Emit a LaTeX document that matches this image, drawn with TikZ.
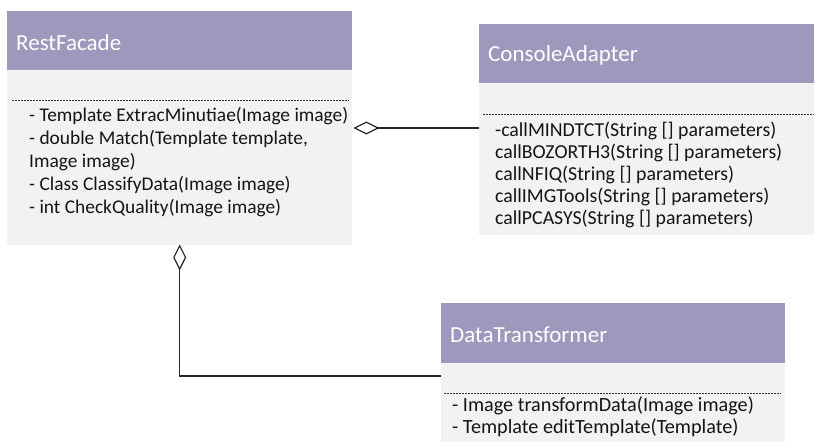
\documentclass[tikz,border=0pt]{standalone}
\usepackage{fontspec}
\setmainfont{Carlito}
\usetikzlibrary{arrows.meta}
\definecolor{hdrcol}{RGB}{159,151,188}
\definecolor{bodycol}{RGB}{242,242,242}
\definecolor{txtcol}{RGB}{20,20,20}
\tikzset{
  hdr/.style={draw=none, fill=hdrcol, anchor=north west, inner sep=0pt},
  bodybox/.style={draw=none, fill=bodycol, anchor=north west, inner sep=0pt},
  hdrtext/.style={text=white, anchor=west, inner sep=0pt, font=\fontsize{23}{27}\selectfont},
  btext/.style={text=txtcol, anchor=base west, inner sep=0pt, font=\fontsize{19.4}{23}\selectfont},
  ctext/.style={btext, font=\fontsize{19.8}{23}\selectfont},
  dtext/.style={btext, font=\fontsize{20.2}{23}\selectfont},
  dashline/.style={draw=black!80, line width=0.8pt, dash pattern=on 2pt off 1pt},
  agg/.style={draw=black!85, line width=1.4pt, -{Diamond[open, fill=white, length=26pt, width=13pt, line width=1.2pt]}}
}
\begin{document}
\begin{tikzpicture}[x=1pt,y=-1pt]
\useasboundingbox (0,0) rectangle (815,442);
% RestFacade
\node[hdr, minimum width=345pt, minimum height=59pt] (rfh) at (7,11) {};
\node[bodybox, minimum width=345pt, minimum height=175pt] (rfb) at (7,70) {};
\node[hdrtext] (rft) at ([xshift=9pt,yshift=-1.5pt]rfh.west) {RestFacade};
\draw[dashline] ([xshift=5pt]rfb.north west |- 0,100) -- ([xshift=-4pt]rfb.north east |- 0,100);
\node[btext] (rf1) at (29,121) {- Template ExtracMinutiae(Image image)};
\node[btext] (rf2) at (29,144) {- double Match(Template template,};
\node[btext] (rf3) at (29,167) {Image image)};
\node[btext] (rf4) at (29,190) {- Class ClassifyData(Image image)};
\node[btext] (rf5) at (29,213) {- int CheckQuality(Image image)};
% ConsoleAdapter
\node[hdr, minimum width=335pt, minimum height=59pt] (cah) at (479,24) {};
\node[bodybox, minimum width=335pt, minimum height=152pt] (cab) at (479,83) {};
\node[hdrtext] (cat) at ([xshift=9pt,yshift=-1.5pt]cah.west) {ConsoleAdapter};
\draw[dashline] ([xshift=4pt]cab.north west |- 0,114) -- (cab.north east |- 0,114);
\node[ctext] (ca1) at (495,136) {-callMINDTCT(String [] parameters)};
\node[ctext] (ca2) at (495,158) {callBOZORTH3(String [] parameters)};
\node[ctext] (ca3) at (495,180) {callNFIQ(String [] parameters)};
\node[ctext] (ca4) at (495,202.5) {callIMGTools(String [] parameters)};
\node[ctext] (ca5) at (495,224.5) {callPCASYS(String [] parameters)};
% DataTransformer
\node[hdr, minimum width=344pt, minimum height=60pt] (dth) at (441,303) {};
\node[bodybox, minimum width=344pt, minimum height=85pt] (dtb) at (441,363) {};
\node[hdrtext] (dtt) at ([xshift=9pt,yshift=-1.5pt]dth.west) {DataTransformer};
\draw[dashline] ([xshift=3pt]dtb.north west |- 0,393) -- ([xshift=-4pt]dtb.north east |- 0,393);
\node[dtext] (dt1) at (452,411) {- Image transformData(Image image)};
\node[dtext] (dt2) at (452,433) {- Template editTemplate(Template)};
% connectors
\draw[agg] (cab.west |- 0,128) -- ([xshift=1pt]rfb.east |- 0,128);
\draw[agg] (dtb.west |- 0,376) -| ([yshift=1pt]rfb.south);
\end{tikzpicture}
\end{document}
